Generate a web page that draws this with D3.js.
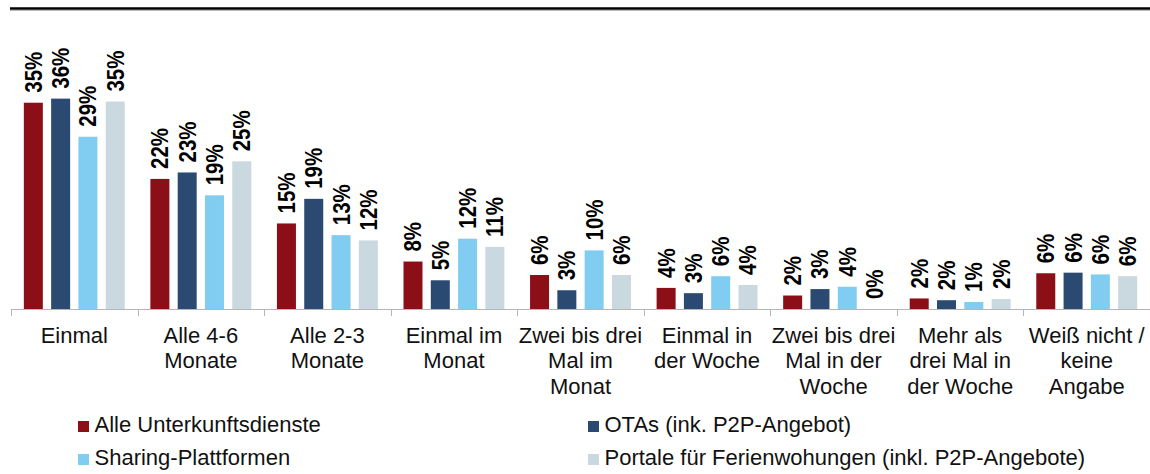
<!DOCTYPE html>
<html>
<head>
<meta charset="utf-8">
<script src="https://cdn.jsdelivr.net/npm/d3@7"></script>
<style>
  body { margin: 0; background: #fff; }
  svg { display: block; font-family: "Liberation Sans", Arial, sans-serif; }
</style>
</head>
<body>
<svg width="1150" height="474"></svg>
<script>
// Kategorien (Zeilenumbrüche wie im Original)
const categories = [
    ["Einmal"],
    ["Alle 4-6", "Monate"],
    ["Alle 2-3", "Monate"],
    ["Einmal im", "Monat"],
    ["Zwei bis drei", "Mal im", "Monat"],
    ["Einmal in", "der Woche"],
    ["Zwei bis drei", "Mal in der", "Woche"],
    ["Mehr als", "drei Mal in", "der Woche"],
    ["Weiß nicht /", "keine", "Angabe"]
];

// Serien
const seriesNames = [
    "Alle Unterkunftsdienste",
    "OTAs (ink. P2P-Angebot)",
    "Sharing-Plattformen",
    "Portale für Ferienwohungen (inkl. P2P-Angebote)"
];
const seriesColors = ["#8c0f18", "#2a4a72", "#81cdf1", "#cad8e0"];

// Werte in % (aus dem Bild geschätzt)
const alleValues    = [35.2, 22.2, 14.6, 8.1, 5.8, 3.6, 2.3, 1.8, 6.1];
const otaValues     = [35.9, 23.3, 18.8, 4.9, 3.2, 2.7, 3.4, 1.5, 6.2];
const sharingValues = [29.4, 19.4, 12.6, 12.0, 10.0, 5.6, 3.8, 1.2, 5.9];
const portaleValues = [35.4, 25.2, 11.7, 10.6, 5.8, 4.1, 0, 1.7, 5.6];

const allSeries = [alleValues, otaValues, sharingValues, portaleValues];

const svg = d3.select("svg");

// Rahmenbereich
const area = {
    left: 11,
    right: 1150,
    baseY: 309,
    topY: 309 - 40 * 5.86
};

// Linie oben
svg.append("line")
    .attr("x1", 10).attr("x2", 1150)
    .attr("y1", 10.5).attr("y2", 10.5)
    .attr("stroke", "#bbb").attr("stroke-width", 1);
svg.append("line")
    .attr("x1", 10).attr("x2", 1150)
    .attr("y1", 8.5).attr("y2", 8.5)
    .attr("stroke", "#000").attr("stroke-width", 2.6);

// Skalen
const catIdx = categories.map((c, i) => i);
const x0 = d3.scaleBand()
    .domain(catIdx)
    .range([area.left, area.right])
    .padding(0);

const x1 = d3.scaleBand()
    .domain(d3.range(seriesNames.length))
    .range([0, x0.bandwidth()])
    .paddingInner(0.304)
    .paddingOuter(0.47);

const y = d3.scaleLinear()
    .domain([0, 40])
    .range([area.baseY, area.topY]);

// Balken
const groups = svg.append("g").selectAll("g")
    .data(catIdx)
    .join("g")
    .attr("transform", i => `translate(${x0(i)},0)`);

groups.selectAll("rect")
    .data(i => allSeries.map((s, k) => ({ k: k, v: s[i] })))
    .join("rect")
    .attr("x", d => x1(d.k))
    .attr("y", d => y(d.v))
    .attr("width", x1.bandwidth())
    .attr("height", d => area.baseY - y(d.v))
    .attr("fill", d => seriesColors[d.k]);

// Werte-Beschriftungen (gedreht, etwas gestaucht wie im Original)
groups.selectAll("text")
    .data(i => allSeries.map((s, k) => ({ k: k, v: s[i] })))
    .join("text")
    .attr("transform", d => `translate(${x1(d.k) + x1.bandwidth() / 2},${y(d.v) - 10}) rotate(-90) scale(0.87,1)`)
    .attr("dy", "0.36em")
    .attr("text-anchor", "start")
    .attr("font-size", 23.5)
    .attr("font-weight", "bold")
    .attr("fill", "#000")
    .text(d => Math.round(d.v) + "%");

// X-Achse
svg.append("line")
    .attr("x1", area.left).attr("x2", area.right)
    .attr("y1", area.baseY + 0.5).attr("y2", area.baseY + 0.5)
    .attr("stroke", "#b5b5b5").attr("stroke-width", 1);

svg.append("g").selectAll("line")
    .data(catIdx)
    .join("line")
    .attr("x1", i => Math.round(x0(i)) + 0.5)
    .attr("x2", i => Math.round(x0(i)) + 0.5)
    .attr("y1", area.baseY)
    .attr("y2", area.baseY + 7)
    .attr("stroke", "#b5b5b5");

// Kategorien
const catText = svg.append("g").selectAll("text")
    .data(catIdx)
    .join("text")
    .attr("x", i => x0(i) + x0.bandwidth() / 2)
    .attr("y", 342.7)
    .attr("text-anchor", "middle")
    .attr("font-size", 22)
    .attr("fill", "#111");

catText.selectAll("tspan")
    .data(i => categories[i].map((line, n) => ({ i: i, line: line, n: n })))
    .join("tspan")
    .attr("x", d => x0(d.i) + x0.bandwidth() / 2)
    .attr("dy", d => d.n === 0 ? 0 : 25.6)
    .text(d => d.line);

// Legende
const legendPos = [
    { x: 78, y: 421 },
    { x: 588, y: 421 },
    { x: 78, y: 454 },
    { x: 588, y: 454 }
];

const legend = svg.append("g").selectAll("g")
    .data(seriesNames)
    .join("g")
    .attr("transform", (d, i) => `translate(${legendPos[i].x},${legendPos[i].y})`);

legend.append("rect")
    .attr("width", 11).attr("height", 11)
    .attr("fill", (d, i) => seriesColors[i]);

legend.append("text")
    .attr("x", 16.5)
    .attr("y", 11.3)
    .attr("font-size", 22)
    .attr("fill", "#111")
    .text(d => d);
</script>
</body>
</html>
